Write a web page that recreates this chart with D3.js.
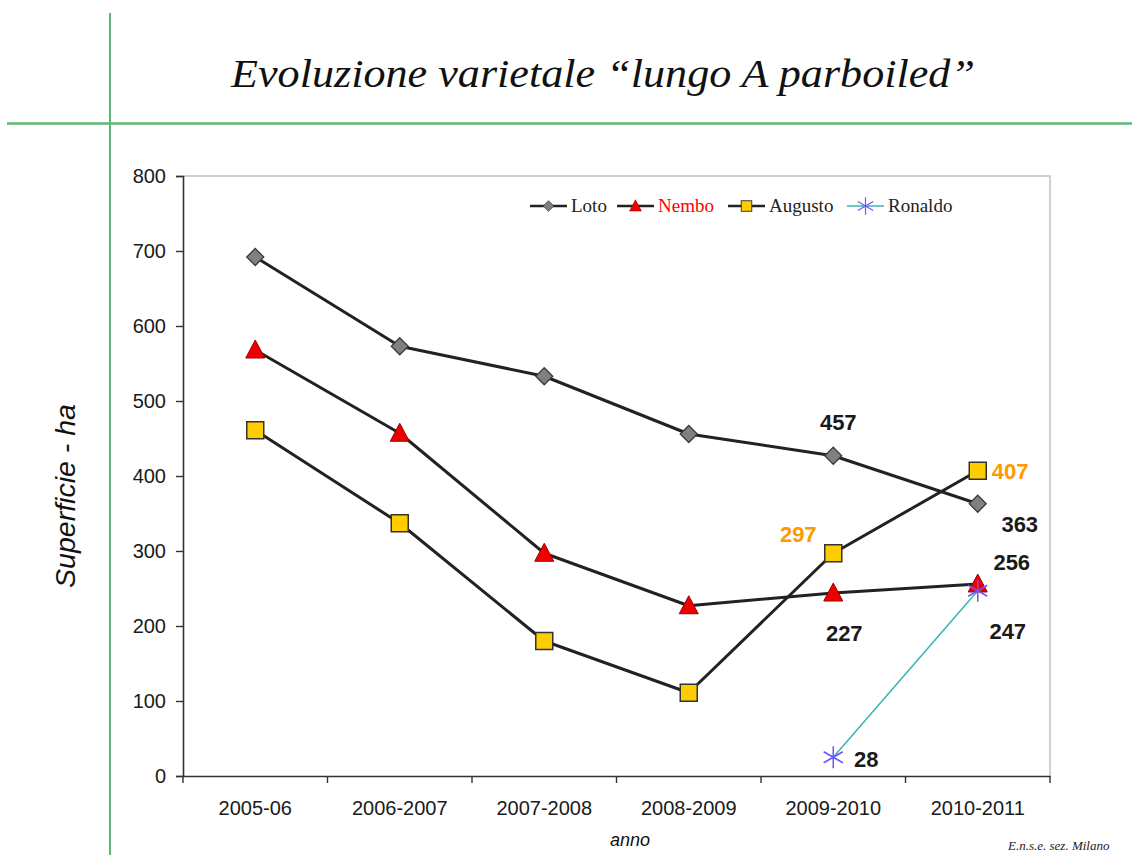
<!DOCTYPE html>
<html><head><meta charset="utf-8">
<script src="https://cdn.jsdelivr.net/npm/d3@7"></script>
<style>html,body{margin:0;padding:0;background:#fff;}svg{display:block;}</style>
</head><body>
<svg id="chart" width="1132" height="855"></svg>
<script>
// ---- data ----
const categories = ["2005-06","2006-2007","2007-2008","2008-2009","2009-2010","2010-2011"];
const seriesNames = ["Loto","Nembo","Augusto","Ronaldo"];
const loto    = [692, 573, 533, 456, 427, 363];
const nembo   = [568, 457, 297, 227, 244, 256];
const augusto = [461, 337, 180, 111, 297, 407];
const ronaldo = [null, null, null, null, 25, 247];
const yTicks  = [0,100,200,300,400,500,600,700,800];
const labelTexts  = ["457","407","297","363","256","227","247","28"];
const labelSeries = ["Loto","Augusto","Augusto","Loto","Nembo","Nembo","Ronaldo","Ronaldo"];
const labelIndex  = [4,5,4,5,5,4,5,4];

const values = {Loto: loto, Nembo: nembo, Augusto: augusto, Ronaldo: ronaldo};

// ---- styles ----
const style = {
  Loto:    {line:"#222", lw:3, fill:"#808080", stroke:"#3a3a3a", shape:"diamond", text:"#222"},
  Nembo:   {line:"#222", lw:3, fill:"#ee0000", stroke:"#a00000", shape:"triangle", text:"#ff0000"},
  Augusto: {line:"#222", lw:3, fill:"#ffcc00", stroke:"#333",    shape:"square", text:"#222"},
  Ronaldo: {line:"#3bb3b3", lw:1.5, fill:"none", stroke:"#6a55ff", shape:"asterisk", text:"#222"}
};
const labelStyle = [
  {dx:5, dy:-34, anchor:"middle", color:"#1a1a1a"},
  {dx:14, dy:0, anchor:"start", color:"#ff9900"},
  {dx:-35, dy:-19, anchor:"middle", color:"#ff9900"},
  {dx:42, dy:20, anchor:"middle", color:"#1a1a1a"},
  {dx:34, dy:-22, anchor:"middle", color:"#1a1a1a"},
  {dx:11, dy:40, anchor:"middle", color:"#1a1a1a"},
  {dx:30, dy:40, anchor:"middle", color:"#1a1a1a"},
  {dx:33, dy:2, anchor:"middle", color:"#1a1a1a"}
];

const svg = d3.select("#chart");
const green = "#5cb874";

// decorative slide lines
svg.append("line").attr("x1",110).attr("x2",110).attr("y1",13).attr("y2",855)
  .attr("stroke",green).attr("stroke-width",2);
svg.append("line").attr("x1",7).attr("x2",1132).attr("y1",123.5).attr("y2",123.5)
  .attr("stroke",green).attr("stroke-width",2.5);

// title
svg.append("text").attr("x",603).attr("y",87).attr("text-anchor","middle")
  .attr("font-family","Liberation Serif, serif").attr("font-style","italic")
  .attr("font-size",40).attr("fill","#111")
  .attr("textLength",744).attr("lengthAdjust","spacingAndGlyphs")
  .text("Evoluzione varietale \u201clungo A parboiled\u201d");

// scales
const pLeft = 183, pRight = 1050, pTop = 176, pBottom = 776;
const x = d3.scaleBand().domain(categories).range([pLeft, pRight]).padding(0);
const xc = c => x(c) + x.bandwidth()/2;
const y = d3.scaleLinear().domain([0,800]).range([pBottom, pTop]);

// plot border (top & right light gray)
svg.append("path").attr("d",`M${pLeft},${pTop}H${pRight}V${pBottom}`)
  .attr("fill","none").attr("stroke","#d0d0d0").attr("stroke-width",2);

// y axis
const yAxis = svg.append("g").attr("transform",`translate(${pLeft},0)`)
  .call(d3.axisLeft(y).tickValues(yTicks).tickSize(7).tickPadding(10));
yAxis.select(".domain").attr("stroke","#333").attr("stroke-width",1.6);
yAxis.selectAll(".tick line").attr("stroke","#333").attr("stroke-width",1.4);
yAxis.selectAll(".tick text").attr("font-family","Liberation Sans, Arial, sans-serif")
  .attr("font-size",20).attr("fill","#1a1a1a");

// x axis
const xAxis = svg.append("g").attr("transform",`translate(0,${pBottom})`)
  .call(d3.axisBottom(x).tickSize(0).tickPadding(25));
xAxis.select(".domain").attr("stroke","#333").attr("stroke-width",1.6);
xAxis.selectAll(".tick text").attr("font-family","Liberation Sans, Arial, sans-serif")
  .attr("font-size",20).attr("fill","#1a1a1a");
// boundary ticks
const bounds = categories.map(c => x(c)).concat([pRight]);
svg.append("g").selectAll("line").data(bounds).join("line")
  .attr("x1",d=>d).attr("x2",d=>d).attr("y1",pBottom).attr("y2",pBottom+7)
  .attr("stroke","#333").attr("stroke-width",1.4);

// axis titles
svg.append("text").attr("transform","translate(75,496) rotate(-90)")
  .attr("text-anchor","middle").attr("font-family","Liberation Sans, Arial, sans-serif")
  .attr("font-style","italic").attr("font-size",27).attr("fill","#111")
  .attr("textLength",184).attr("lengthAdjust","spacingAndGlyphs")
  .text("Superficie - ha");
svg.append("text").attr("x",630).attr("y",846).attr("text-anchor","middle")
  .attr("font-family","Liberation Sans, Arial, sans-serif").attr("font-style","italic")
  .attr("font-size",18).attr("fill","#111").text("anno");
svg.append("text").attr("x",1008).attr("y",850)
  .attr("font-family","Liberation Serif, serif").attr("font-style","italic")
  .attr("font-size",13).attr("fill","#222").text("E.n.s.e. sez. Milano");

// marker drawer
function marker(g, shape, s) {
  const st = style[s];
  if (shape === "diamond") {
    g.append("path").attr("d","M0,-8.5L8.5,0L0,8.5L-8.5,0Z")
      .attr("fill",st.fill).attr("stroke",st.stroke).attr("stroke-width",1.3);
  } else if (shape === "triangle") {
    g.append("path").attr("d","M0,-10L9.5,8L-9.5,8Z")
      .attr("fill",st.fill).attr("stroke",st.stroke).attr("stroke-width",1);
  } else if (shape === "square") {
    g.append("rect").attr("x",-8.5).attr("y",-8.5).attr("width",17).attr("height",17)
      .attr("fill",st.fill).attr("stroke",st.stroke).attr("stroke-width",1.5);
  } else {
    const r = 11;
    g.append("path")
      .attr("d",`M0,${-r}V${r}M${-r*0.87},${-r*0.5}L${r*0.87},${r*0.5}M${-r*0.87},${r*0.5}L${r*0.87},${-r*0.5}`)
      .attr("stroke",st.stroke).attr("stroke-width",1.5).attr("fill","none");
  }
}

// series lines & markers
const line = d3.line().defined(d => d.v !== null).x(d => xc(d.c)).y(d => y(d.v));
seriesNames.forEach(s => {
  const pts = categories.map((c,i) => ({c, v: values[s][i]}));
  svg.append("path").datum(pts).attr("d", line)
    .attr("fill","none").attr("stroke",style[s].line).attr("stroke-width",style[s].lw)
    .attr("stroke-linejoin","round");
});
seriesNames.forEach(s => {
  categories.forEach((c,i) => {
    const v = values[s][i];
    if (v === null) return;
    const g = svg.append("g").attr("transform",`translate(${xc(c)},${y(v)})`);
    marker(g, style[s].shape, s);
  });
});

// data labels
labelTexts.forEach((t,k) => {
  const s = labelSeries[k], i = labelIndex[k], ls = labelStyle[k];
  svg.append("text")
    .attr("x", xc(categories[i]) + ls.dx)
    .attr("y", y(values[s][i]) + ls.dy)
    .attr("dy","0.36em").attr("text-anchor", ls.anchor)
    .attr("font-family","Liberation Sans, Arial, sans-serif").attr("font-weight","bold")
    .attr("font-size",22).attr("fill",ls.color).text(t);
});

// legend
const legendX = [530, 617, 728, 847];
const leg = svg.append("g").attr("transform","translate(0,206)");
seriesNames.forEach((s,k) => {
  const g = leg.append("g").attr("transform",`translate(${legendX[k]},0)`);
  g.append("line").attr("x1",0).attr("x2",37).attr("y1",0).attr("y2",0)
    .attr("stroke",style[s].line).attr("stroke-width",style[s].lw === 3 ? 2.5 : 1.5);
  const m = g.append("g").attr("transform", s === "Ronaldo" ? "translate(18.5,0) scale(0.8)" : "translate(18.5,0) scale(0.62)");
  marker(m, style[s].shape, s);
  g.append("text").attr("x",41).attr("y",0).attr("dy","0.33em")
    .attr("font-family","Liberation Serif, serif").attr("font-size",19)
    .attr("fill",style[s].text).text(s);
});
</script>
</body></html>
